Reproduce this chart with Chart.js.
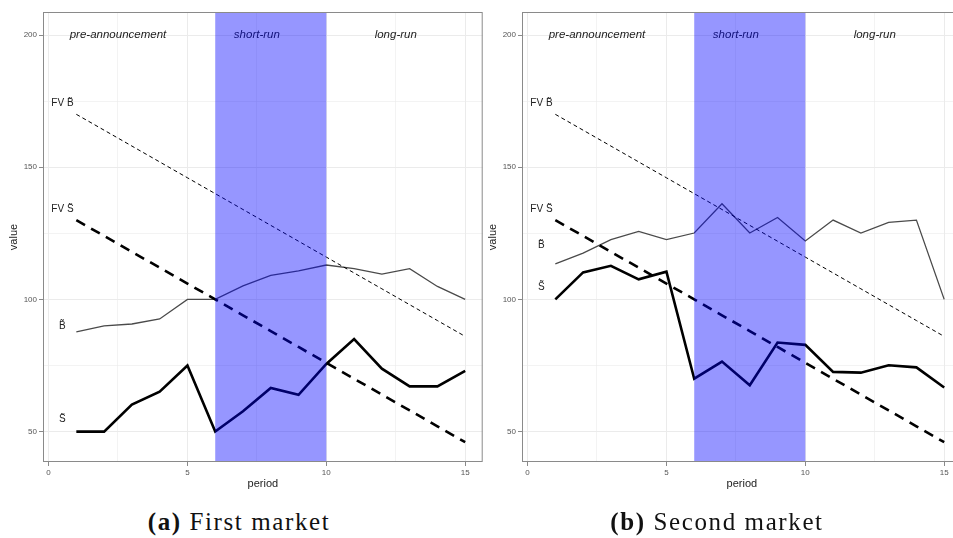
<!DOCTYPE html>
<html>
<head>
<meta charset="utf-8">
<script src="https://cdn.jsdelivr.net/npm/chart.js@4.4.1/dist/chart.umd.min.js"></script>
<style>
  body { margin:0; width:953px; height:538px; overflow:hidden; position:relative; background:#fff; }
  canvas { position:absolute; top:0; }
  .cap { position:absolute; top:509px; width:300px; text-align:center; font-family:"Liberation Serif", serif;
         font-size:25px; line-height:26px; letter-spacing:1.6px; color:#111; white-space:nowrap; }
  .cap b { font-weight:bold; }
</style>
</head>
<body>
<canvas id="first" width="485" height="500" style="left:0"></canvas>
<canvas id="second" width="485" height="500" style="left:479px"></canvas>
<div class="cap" style="left:89px"><b>(a)</b> First market</div>
<div class="cap" style="left:567px"><b>(b)</b> Second market</div>
<script>
// data
const periods = [1,2,3,4,5,6,7,8,9,10,11,12,13,14,15];
const fvB = [170,164,158,152,146,140,134,128,122,116,110,104,98,92,86];
const fvS = [130,124,118,112,106,100,94,88,82,76,70,64,58,52,46];
const bFirst  = [87.7,90,90.7,92.6,100,100,105.1,109.1,110.8,113,111.6,109.6,111.6,104.9,100];
const sFirst  = [50,50,60.2,65.1,75,50,57.7,66.5,63.9,75.6,85,73.8,67.1,67.1,73];
const bSecond = [113.4,117.5,122.6,125.7,122.6,125.1,136.2,125.1,131,122.1,130,125.1,129.1,130,100];
const sSecond = [100,110.2,112.7,107.6,110.5,70,76.5,67.5,83.7,82.8,72.6,72.3,75.1,74.3,66.7];

const xMajor = [0,5,10,15];
const xMinor = [2.5,7.5,12.5];
const yMajor = [50,100,150,200];
const yMinor = [75,125,175];

const phaseNames = ['pre-announcement','short-run','long-run'];
const phaseX = [2.5,7.5,12.5];
const phaseY = 200;
const shortRun = [6,10];

const seriesNames = ['FV B\u0303','FV S\u0303','B\u0303','S\u0303'];
const labelX = 0.5;
const labelYFirst  = [174,134,90,54.5];
const labelYSecond = [174,134,120.4,104.7];

const pts = vals => periods.map((p,i) => ({x:p, y:vals[i]}));

const panelDecor = {
  id:'panelDecor',
  afterDatasetsDraw(chart, args, opts){
    const {ctx, chartArea:a, scales:{x,y}} = chart;
    ctx.save();
    // phase names
    ctx.fillStyle = '#222';
    ctx.font = 'italic 11.5px "Liberation Sans", Arial, sans-serif';
    ctx.textAlign = 'center';
    ctx.textBaseline = 'middle';
    phaseNames.forEach((t,i) => ctx.fillText(t, x.getPixelForValue(phaseX[i]), y.getPixelForValue(phaseY)));
    // series names
    ctx.font = '10px "Liberation Sans", Arial, sans-serif';
    seriesNames.forEach((t,i) => ctx.fillText(t, x.getPixelForValue(labelX), y.getPixelForValue(opts.labelY[i])));
    // short-run band, drawn over the lines
    const x0 = x.getPixelForValue(shortRun[0]), x1 = x.getPixelForValue(shortRun[1]);
    ctx.fillStyle = 'rgba(0,0,255,0.41)';
    ctx.fillRect(x0, a.top, x1 - x0, a.bottom - a.top);
    // panel border
    ctx.strokeStyle = '#8a8a8a';
    ctx.lineWidth = 1;
    ctx.strokeRect(a.left + 0.5, a.top + 0.5, a.right - a.left - 1, a.bottom - a.top - 1);
    ctx.restore();
  }
};

function isMajor(list, v){ return list.some(m => Math.abs(m - v) < 1e-6); }

function makeChart(id, bVals, sVals, labelY){
  new Chart(document.getElementById(id), {
    type:'line',
    data:{
      datasets:[
        {data:pts(fvB), borderColor:'#000', borderWidth:1, borderDash:[4,3]},
        {data:pts(fvS), borderColor:'#000', borderWidth:2.6, borderDash:[10,7]},
        {data:pts(bVals), borderColor:'#4a4a4a', borderWidth:1.3},
        {data:pts(sVals), borderColor:'#000', borderWidth:2.6}
      ]
    },
    options:{
      responsive:false,
      animation:false,
      events:[],
      layout:{padding:{left:0, top:12, right:2.3, bottom:0}},
      elements:{point:{radius:0}, line:{tension:0, fill:false}},
      plugins:{legend:{display:false}, tooltip:{enabled:false}, panelDecor:{labelY}},
      scales:{
        x:{
          type:'linear', min:-0.2, max:15.63,
          afterBuildTicks: s => { s.ticks = xMajor.concat(xMinor).sort((a,b)=>a-b).map(v => ({value:v})); },
          afterFit: s => { s.height = 38; },
          border:{display:false},
          grid:{
            color:'#ebebeb',
            lineWidth: c => isMajor(xMajor, c.tick.value) ? 1 : 0.6,
            tickColor: c => isMajor(xMajor, c.tick.value) ? '#8a8a8a' : 'rgba(0,0,0,0)',
            tickLength:4
          },
          ticks:{
            color:'#555', font:{size:8, family:'"Liberation Sans", Arial, sans-serif'}, padding:2,
            maxRotation:0, autoSkip:false,
            callback: v => isMajor(xMajor, v) ? String(v) : ''
          },
          title:{display:true, text:'period', color:'#222', padding:{top:0, bottom:9.4},
                 font:{size:11, family:'"Liberation Sans", Arial, sans-serif'}}
        },
        y:{
          type:'linear', min:38.5, max:208.7,
          afterBuildTicks: s => { s.ticks = yMajor.concat(yMinor).sort((a,b)=>a-b).map(v => ({value:v})); },
          afterFit: s => { s.width = 43; },
          border:{display:false},
          grid:{
            color:'#ebebeb',
            lineWidth: c => isMajor(yMajor, c.tick.value) ? 1 : 0.6,
            tickColor: c => isMajor(yMajor, c.tick.value) ? '#8a8a8a' : 'rgba(0,0,0,0)',
            tickLength:4
          },
          ticks:{
            color:'#555', font:{size:8, family:'"Liberation Sans", Arial, sans-serif'}, padding:2,
            autoSkip:false,
            callback: v => isMajor(yMajor, v) ? String(v) : ''
          },
          title:{display:true, text:'value', color:'#222', padding:{top:7.4, bottom:0},
                 font:{size:11, family:'"Liberation Sans", Arial, sans-serif'}}
        }
      }
    },
    plugins:[panelDecor]
  });
}

makeChart('first', bFirst, sFirst, labelYFirst);
makeChart('second', bSecond, sSecond, labelYSecond);
</script>
</body>
</html>
